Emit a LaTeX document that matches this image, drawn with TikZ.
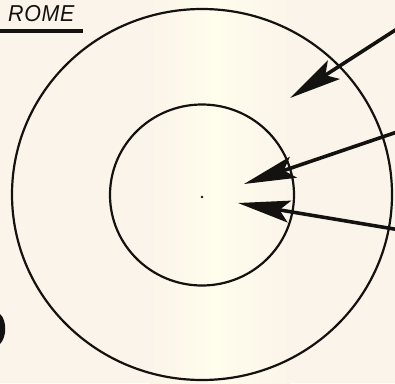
\documentclass[tikz,border=0pt]{standalone}
\usepackage{fontspec}
\newfontfamily\romefont{Liberation Sans}
\usetikzlibrary{arrows.meta,shapes.geometric}
\definecolor{paper}{HTML}{FBF4EA}
\definecolor{paperlight}{HTML}{FFFDEC}
\definecolor{ink}{HTML}{141210}
\tikzset{
  ring/.style={draw=ink, ellipse, line width=2.2pt, inner sep=0pt, outer sep=0pt},
  pointer/.style={draw=ink, line width=3.6pt, -{Stealth[length=52pt,width=22pt,inset=10pt]}},
  title/.style={font=\romefont\itshape\fontsize{23}{23}\selectfont, text=ink, inner sep=0pt, anchor=base west},
}
\begin{document}
\begin{tikzpicture}[x=1pt,y=-1pt]
  \useasboundingbox (0,0) rectangle (395,383);
  \fill[paper] (0,0) rectangle (395,383);
  \shade[left color=paper, right color=paperlight] (150,0) rectangle (215,383);
  \shade[left color=paperlight, right color=paper] (215,0) rectangle (290,383);

  % title
  \node[title] (rome) at (8,21) {\scalebox{0.93}[1]{\addfontfeature{LetterSpace=3}ROME}};
  \coordinate (ulA) at (0,31);
  \coordinate (ulB) at (83,31);
  \draw[ink, line width=3.4pt] (ulA) -- (ulB);

  % circles
  \node[ring, minimum width=380pt, minimum height=371pt] (outer) at (202,194.5) {};
  \node[ring, minimum width=184pt, minimum height=181pt] (inner) at (202,195) {};
  \fill[ink] (inner.center) ++(0,2) circle (1.4pt);

  % arrows
  \coordinate (s1) at (400,27);
  \coordinate (t1) at (290,98);
  \coordinate (s2) at (400,131);
  \coordinate (t2) at (244,184);
  \coordinate (s3) at (400,230);
  \coordinate (t3) at (238,203);
  \draw[pointer] (s1) -- (t1);
  \draw[pointer] (s2) -- (t2);
  \draw[pointer] (s3) -- (t3);

  % fragment of a letter at the left edge
  \fill[ink] (0,314) .. controls (7,320) and (7,337) .. (0,344) -- cycle;
\end{tikzpicture}
\end{document}
